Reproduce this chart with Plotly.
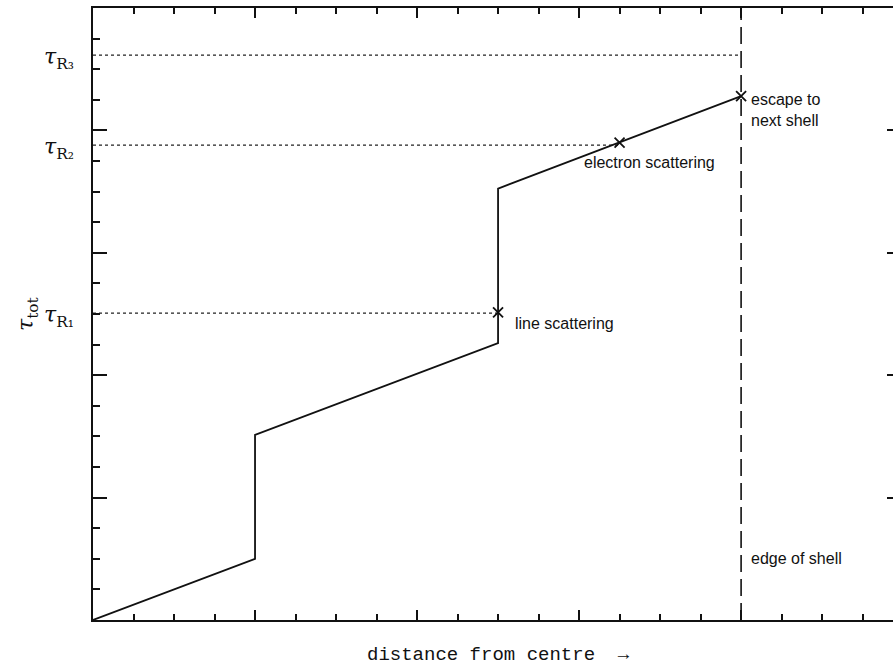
import plotly.graph_objects as go

# ---- data ----
path_x = [0, 4, 4, 10, 10, 16]
path_y = [0, 2.0, 6.05, 9.05, 14.1, 17.12]

event_x = [10, 13, 16]
event_y = [10.05, 15.6, 17.12]
event_labels = ["line scattering", "electron scattering", "escape to<br>next shell"]

tau_levels = [10.03, 15.52, 18.46]          # tau_R1, tau_R2, tau_R3
tau_labels = ["<i>τ</i><sub>R₁</sub>", "<i>τ</i><sub>R₂</sub>", "<i>τ</i><sub>R₃</sub>"]
tau_ends = [10, 13, 16]

shell_edge_x = 16
x_range = [0, 19.75]
y_range = [0, 20]

fig = go.Figure()

# dotted reference levels
for lvl, xe in zip(tau_levels, tau_ends):
    fig.add_trace(go.Scatter(x=[0, xe], y=[lvl, lvl], mode="lines",
                             line=dict(color="#222", width=1.2, dash="dot"),
                             showlegend=False, hoverinfo="skip"))

# edge of shell dashed line
fig.add_trace(go.Scatter(x=[shell_edge_x, shell_edge_x], y=y_range, mode="lines",
                         line=dict(color="#111", width=1.6, dash="17px,7px"),
                         showlegend=False, hoverinfo="skip"))

# photon path
fig.add_trace(go.Scatter(x=path_x, y=path_y, mode="lines",
                         line=dict(color="#111", width=1.8),
                         showlegend=False, hoverinfo="skip"))

# scattering events
fig.add_trace(go.Scatter(x=event_x, y=event_y, mode="markers",
                         marker=dict(symbol="x-thin", size=10,
                                     line=dict(color="#111", width=1.8)),
                         showlegend=False, hoverinfo="skip", cliponaxis=False))

# invisible trace for right-hand tick axis
fig.add_trace(go.Scatter(x=[None], y=[None], yaxis="y2", showlegend=False,
                         hoverinfo="skip"))

annotations = []
sans = dict(family="Liberation Sans, Arial, sans-serif", size=16, color="#111")
annotations.append(dict(x=event_x[0], y=event_y[0], xref="x", yref="y",
                        text=event_labels[0], showarrow=False, xanchor="left",
                        yanchor="middle", xshift=15, yshift=-11, font=sans))
annotations.append(dict(x=event_x[1], y=event_y[1], xref="x", yref="y",
                        text=event_labels[1], showarrow=False, xanchor="left",
                        yanchor="middle", xshift=-38, yshift=-20, font=sans))
annotations.append(dict(x=event_x[2], y=event_y[2], xref="x", yref="y",
                        text=event_labels[2], showarrow=False, xanchor="left",
                        yanchor="top", align="left", xshift=8, yshift=7, font=sans))
annotations.append(dict(x=shell_edge_x, y=2, xref="x", yref="y",
                        text="edge of shell", showarrow=False, xanchor="left",
                        yanchor="middle", xshift=8, yshift=0, font=sans))

for lvl, lab in zip(tau_levels, tau_labels):
    annotations.append(dict(x=0, y=lvl, xref="paper", yref="y", text=lab,
                            showarrow=False, xanchor="right", yanchor="middle",
                            xshift=-17, yshift=-3,
                            font=dict(family="DejaVu Serif, serif", size=22, color="#111")))

annotations.append(dict(x=0, y=10, xref="paper", yref="y",
                        text="<i>τ</i><sub>tot</sub>", textangle=-90, showarrow=False,
                        xanchor="center", yanchor="middle", xshift=-66,
                        font=dict(family="DejaVu Serif, serif", size=22, color="#111")))

annotations.append(dict(x=10, y=0, xref="x", yref="y",
                        text="distance from centre  →", showarrow=False,
                        xanchor="center", yanchor="top", yshift=-22,
                        font=dict(family="Liberation Mono, Courier New, monospace",
                                  size=19, color="#111")))

fig.update_layout(
    width=893, height=666,
    margin=dict(l=93, r=0, t=8, b=46),
    paper_bgcolor="white", plot_bgcolor="white",
    showlegend=False,
    annotations=annotations,
    xaxis=dict(range=x_range, showgrid=False, zeroline=False,
               showline=True, linecolor="#111", linewidth=2, mirror="ticks",
               ticks="inside", tickvals=[0, 4, 8, 12, 16], ticklen=10,
               tickwidth=1.5, tickcolor="#111", showticklabels=False,
               minor=dict(dtick=1, tick0=0, ticks="inside", ticklen=6,
                          tickwidth=1.5, tickcolor="#111", showgrid=False)),
    yaxis=dict(range=y_range, showgrid=False, zeroline=False,
               showline=True, linecolor="#111", linewidth=2, mirror=False,
               ticks="inside", tickvals=[0, 4, 8, 12, 16, 20], ticklen=14,
               tickwidth=1.5, tickcolor="#111", showticklabels=False,
               minor=dict(dtick=1, tick0=0, ticks="inside", ticklen=7,
                          tickwidth=1.5, tickcolor="#111", showgrid=False)),
    yaxis2=dict(range=y_range, overlaying="y", side="right", showgrid=False,
                zeroline=False, showline=False, ticks="inside",
                tickvals=[4, 8, 12, 16], ticklen=6, tickwidth=1.5,
                tickcolor="#111", showticklabels=False),
)

fig.write_html("out.html")
